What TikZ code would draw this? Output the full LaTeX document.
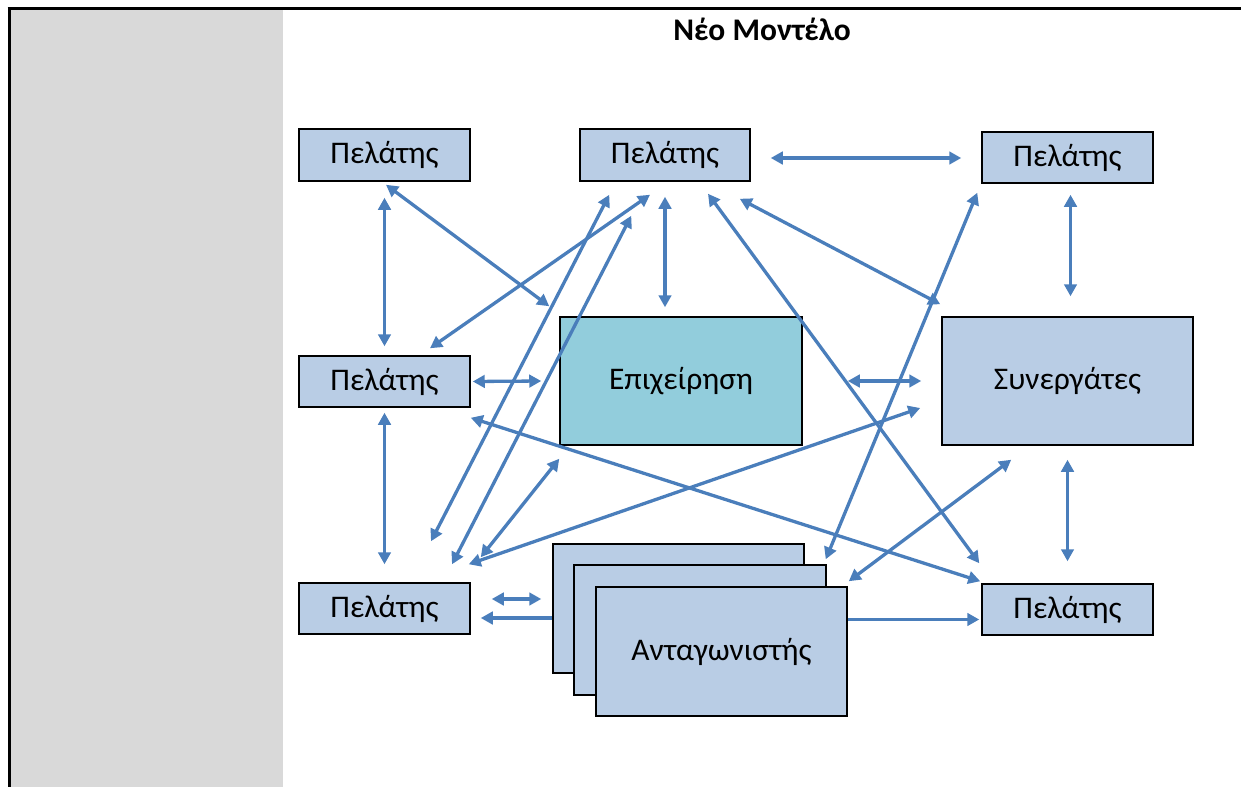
\documentclass[tikz,border=0pt]{standalone}
\usepackage{fontspec}
\setmainfont{Carlito}
\usetikzlibrary{arrows.meta,calc}
\definecolor{boxblue}{HTML}{B9CDE5}
\definecolor{epteal}{HTML}{92CDDC}
\definecolor{arrblue}{HTML}{4A7EBB}
\definecolor{panelgray}{HTML}{D9D9D9}
\begin{document}
\begin{tikzpicture}[x=1pt,y=-1pt,
  box/.style={draw=black, line width=1.5pt, fill=boxblue, inner sep=0pt, font=\fontsize{31.5}{36}\selectfont},
  lbl/.style={yshift=-2.5pt},
  arr/.style={draw=arrblue, line width=3.3pt, {Triangle[length=12pt,width=12.5pt]}-{Triangle[length=12pt,width=12.5pt]}},
  arrs/.style={draw=arrblue, line width=3.3pt, -{Triangle[length=12pt,width=12.5pt]}},
  frame/.style={draw=black, line width=3pt}]
\useasboundingbox (0,0) rectangle (1241,787);
% panel
\fill[panelgray] (10.5,9.5) rectangle (283,787);
\draw[frame] (7.5,8) -- (1241,8);
\draw[frame] (9,8) -- (9,787);
% title
\node[font=\bfseries\fontsize{31.5}{36}\selectfont] (title) at (762,29) {Νέο Μοντέλο};
% clients
\node[box, minimum width=171pt, minimum height=52pt] (p1) at (384.5,155) {\raisebox{-2.5pt}{Πελάτης}};
\node[box, minimum width=170pt, minimum height=52pt] (p2) at (665,155) {\raisebox{-2.5pt}{Πελάτης}};
\node[box, minimum width=171pt, minimum height=51pt] (p3) at (1067.5,157.5) {\raisebox{-2.5pt}{Πελάτης}};
\node[box, minimum width=171pt, minimum height=51pt] (p4) at (384.5,381.5) {\raisebox{-2.5pt}{Πελάτης}};
\node[box, minimum width=171pt, minimum height=51pt] (p5) at (384.5,608.5) {\raisebox{-2.5pt}{Πελάτης}};
\node[box, minimum width=171pt, minimum height=51pt] (p6) at (1067.5,609.5) {\raisebox{-2.5pt}{Πελάτης}};
% business & partners
\node[box, fill=epteal, minimum width=242pt, minimum height=128pt] (ep) at (681,381) {\raisebox{-2.5pt}{Επιχείρηση}};
\node[box, minimum width=251pt, minimum height=128pt] (syn) at (1067.5,381) {\raisebox{-2.5pt}{Συνεργάτες}};
% competitors stack
\node[box, minimum width=251pt, minimum height=129pt] (ant3) at (678.5,608.5) {};
\node[box, minimum width=252pt, minimum height=130pt] (ant2) at (700,630) {};
\node[box, minimum width=251pt, minimum height=129pt] (ant1) at (721.5,651.5) {\raisebox{-2.5pt}{Ανταγωνιστής}};
% connectors
\draw[arr] ([yshift=-16pt]p1.south) -- ([yshift=9pt]p4.north);
\draw[arr] ([shift={(1.5pt,-3pt)}]p1.south) -- ([shift={(-10pt,10pt)}]ep.north west);
\draw[arr] ([shift={(-15pt,-13pt)}]p2.south) -- ([shift={(45.5pt,7pt)}]p4.north);
\draw[arr] ([yshift=-15pt]p2.south) -- ($(p2.south |- ep.north)+(0pt,9pt)$);
\draw[arr] ([shift={(30pt,-13pt)}]p2.south west) -- ([shift={(46.5pt,41pt)}]p5.north);
\draw[arr] ([shift={(52pt,-34pt)}]p2.south west) -- ([shift={(67.5pt,18pt)}]p5.north);
\draw[arr] ([shift={(0pt,-13pt)}]ep.south west) -- ([shift={(10pt,25pt)}]p5.north east);
\draw[arr] ([shift={(-21pt,-27pt)}]syn.west) -- ([shift={(-2pt,18pt)}]p5.north east);
\draw[arr] ([shift={(0pt,-10pt)}]p4.south east) -- ([shift={(-1pt,2pt)}]p6.north west);
\draw[arr] ([xshift=2pt]p4.east) -- ([xshift=-18pt]ep.west);
\draw[arr] ([yshift=-5pt]p4.south) -- ([yshift=18pt]p5.north);
\draw[arr] ([shift={(21pt,9.5pt)}]p5.east) -- ([shift={(-11pt,9.5pt)}]ant3.west);
\draw[arrs] ([yshift=-9.5pt]ant3.west) -- ([shift={(10pt,-9.5pt)}]p5.east);
\draw[arrs] ([yshift=32pt]ant1.east) -- ([shift={(-2pt,-10pt)}]p6.west);
\draw[arr] ([xshift=45pt]ep.east) -- ([xshift=-20pt]syn.west);
\draw[arr] ([shift={(20pt,-3pt)}]p2.east) -- ([shift={(-20pt,-0.5pt)}]p3.west);
\draw[arr] ([shift={(3pt,-11pt)}]p3.south) -- ([shift={(3pt,20pt)}]syn.north);
\draw[arr] ([yshift=-14pt]syn.south) -- ([yshift=22pt]p6.north);
\draw[arr] ([shift={(-11pt,-17pt)}]p2.south east) -- ([shift={(-1pt,12pt)}]syn.north west);
\draw[arr] ([shift={(43pt,-12pt)}]p2.south) -- ([shift={(-2pt,20pt)}]p6.north west);
\draw[arr] ([shift={(-4pt,-9pt)}]p3.south west) -- ([shift={(-1pt,5pt)}]ant2.north east);
\draw[arr] ([shift={(70pt,-14pt)}]syn.south west) -- ([shift={(1pt,5pt)}]ant1.north east);
\end{tikzpicture}
\end{document}
